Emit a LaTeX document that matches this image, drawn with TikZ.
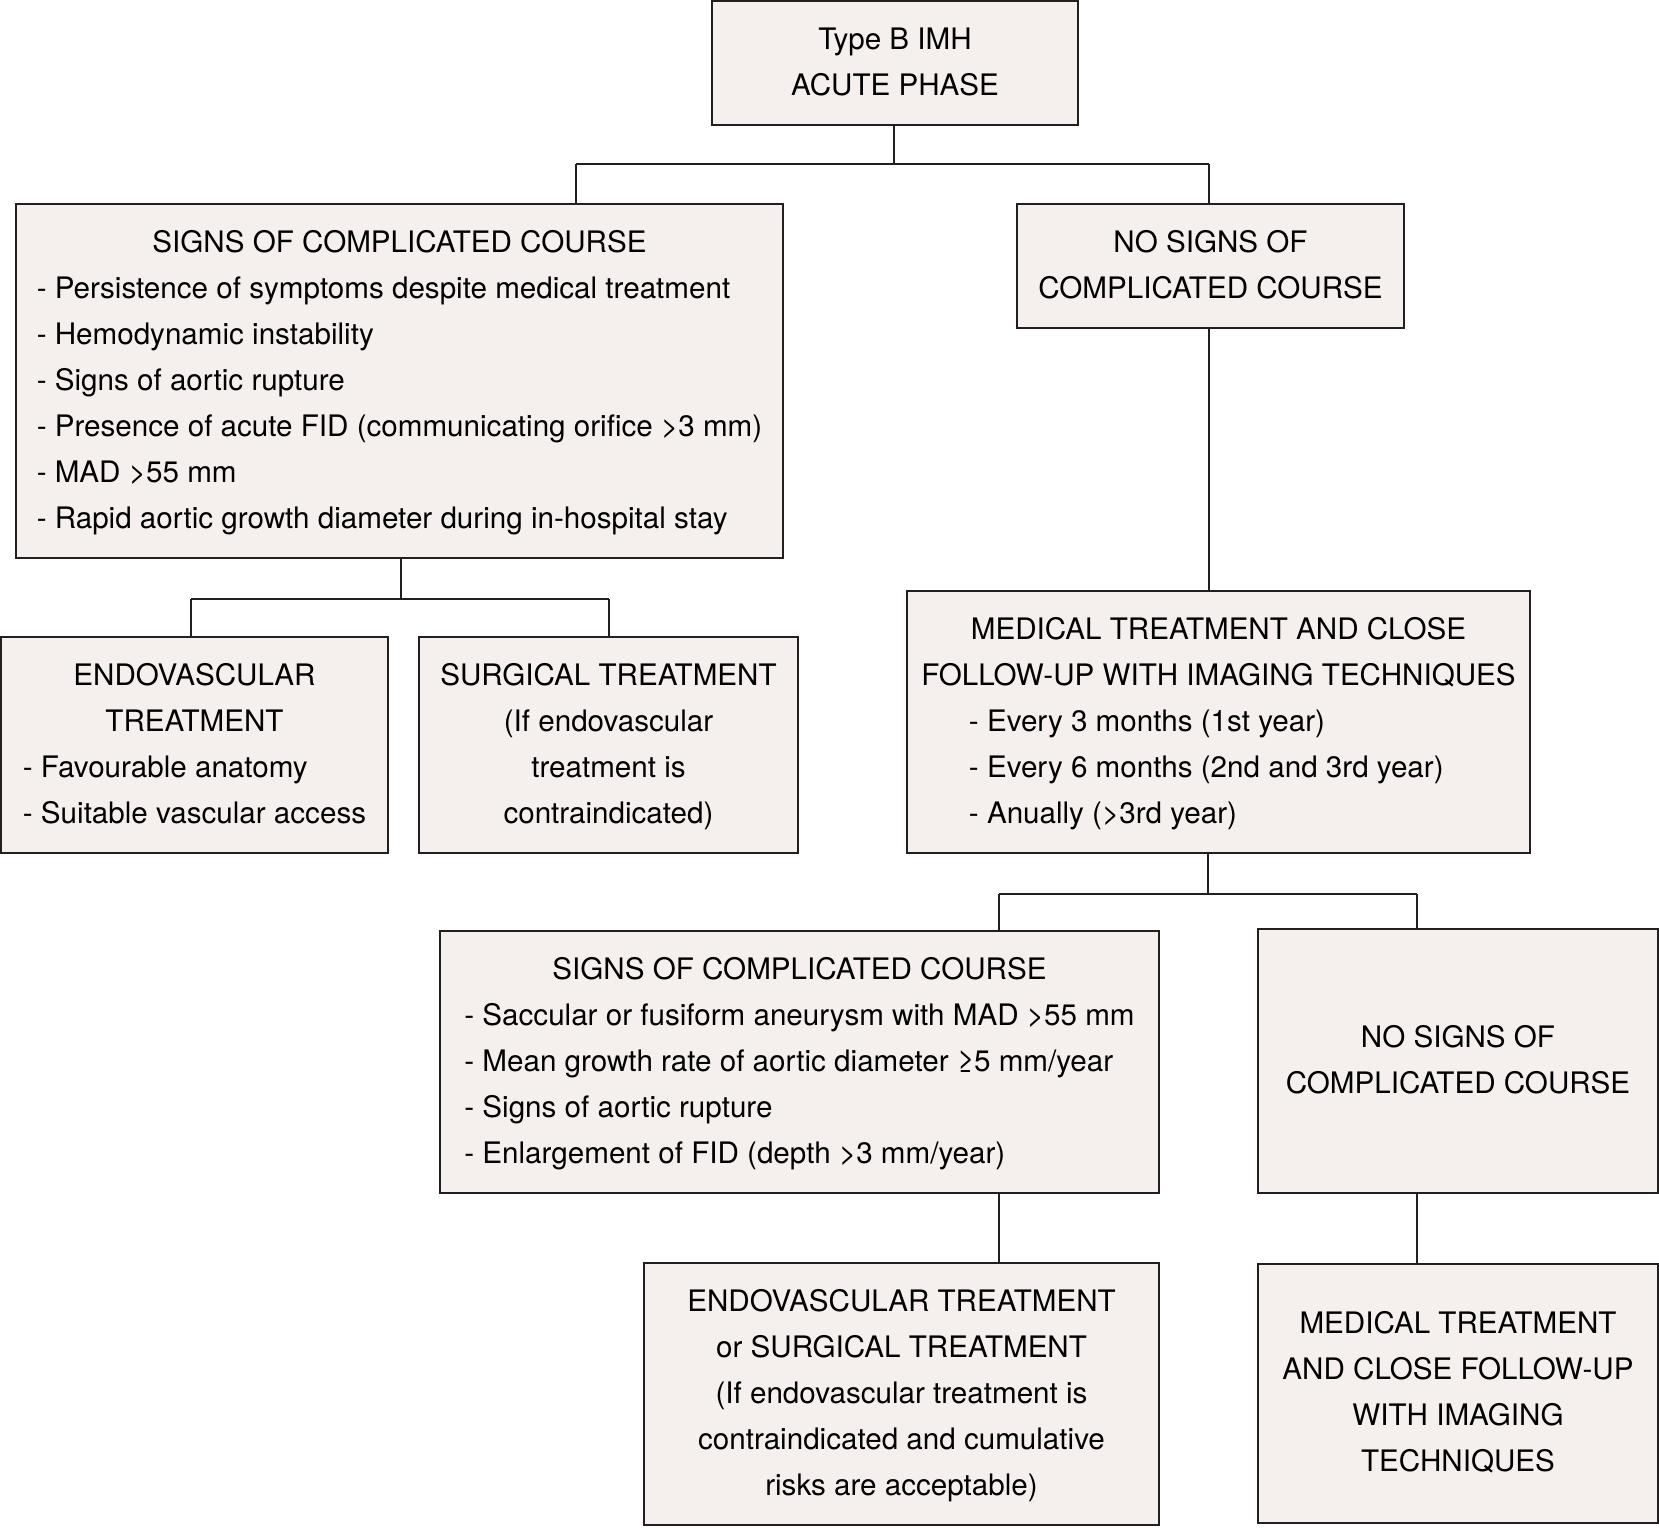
\documentclass[tikz,border=0pt]{standalone}
\usepackage{fontspec}
\setmainfont{TeX Gyre Heros}
\usetikzlibrary{calc}
\definecolor{boxfill}{HTML}{F5F0EE}
\definecolor{boxline}{HTML}{231F20}
\newcommand{\hd}[1]{\multicolumn{1}{@{}c@{}}{#1}}
\begin{document}
\begin{tikzpicture}[x=0.5pt,y=-0.5pt,
  box/.style 2 args={draw=boxline, fill=boxfill, line width=0.9pt, inner sep=0pt,
    minimum width=#1*0.5pt, minimum height=#2*0.5pt, anchor=center,
    font=\fontsize{14.8}{23}\selectfont, text=black},
  link/.style={draw=boxline, line width=0.7pt}]
\useasboundingbox (0,0) rectangle (1659,1527);

\node[box={366}{124}] (top) at (895,63) {\begin{tabular}{@{}c@{}}Type B IMH\\ ACUTE PHASE\end{tabular}};

\node[box={767}{354}] (s1) at (399.5,381) {\begin{tabular}{@{}l@{}}
\hd{SIGNS OF COMPLICATED COURSE}\\
- Persistence of symptoms despite medical treatment\\
- Hemodynamic instability\\
- Signs of aortic rupture\\
- Presence of acute FID (communicating orifice >3 mm)\\
- MAD >55 mm\\
- Rapid aortic growth diameter during in-hospital stay
\end{tabular}};

\node[box={387}{124}] (n1) at (1210.5,266) {\begin{tabular}{@{}c@{}}NO SIGNS OF\\ COMPLICATED COURSE\end{tabular}};

\node[box={387}{216}] (endo) at (194.5,745) {\begin{tabular}{@{}l@{}}
\hd{ENDOVASCULAR}\\
\hd{TREATMENT}\\
- Favourable anatomy\\
- Suitable vascular access
\end{tabular}};

\node[box={379}{216}] (surg) at (608.5,745) {\begin{tabular}{@{}c@{}}
SURGICAL TREATMENT\\
(If endovascular\\
treatment is\\
contraindicated)
\end{tabular}};

\node[box={623}{262}] (med) at (1218.5,722) {\begin{tabular}{@{}l@{}}
\hd{MEDICAL TREATMENT AND CLOSE}\\
\hd{FOLLOW-UP WITH IMAGING TECHNIQUES}\\
\hspace*{23.8pt}- Every 3 months (1st year)\\
\hspace*{23.8pt}- Every 6 months (2nd and 3rd year)\\
\hspace*{23.8pt}- Anually (>3rd year)
\end{tabular}};

\node[box={719}{262}] (s2) at (799.5,1062) {\begin{tabular}{@{}l@{}}
\hd{SIGNS OF COMPLICATED COURSE}\\
- Saccular or fusiform aneurysm with MAD >55 mm\\
- Mean growth rate of aortic diameter ≥5 mm/year\\
- Signs of aortic rupture\\
- Enlargement of FID (depth >3 mm/year)
\end{tabular}};

\node[box={400}{264}] (n2) at (1458,1061) {\begin{tabular}{@{}c@{}}NO SIGNS OF\\ COMPLICATED COURSE\end{tabular}};

\node[box={515}{262}] (endo2) at (901.5,1394) {\begin{tabular}{@{}c@{}}
ENDOVASCULAR TREATMENT\\
or SURGICAL TREATMENT\\
(If endovascular treatment is\\
contraindicated and cumulative\\
risks are acceptable)
\end{tabular}};

\node[box={400}{259}] (medb) at (1458,1393.5) {\begin{tabular}{@{}c@{}}
MEDICAL TREATMENT\\
AND CLOSE FOLLOW-UP\\
WITH IMAGING\\
TECHNIQUES
\end{tabular}};

% junction coordinates
\coordinate (j1) at (894,164);
\coordinate (j1l) at (576,164);
\coordinate (j1r) at (1209,164);
\coordinate (j2) at (401,599);
\coordinate (j2l) at (191,599);
\coordinate (j2r) at (609,599);
\coordinate (j3) at (1208,894);
\coordinate (j3l) at (999,894);
\coordinate (j3r) at (1417,894);

\draw[link] (j1 |- top.south) -- (j1);
\draw[link] (j1l) -- (j1r);
\draw[link] (j1l) -- (j1l |- s1.north);
\draw[link] (j1r) -- (j1r |- n1.north);

\draw[link] (j2 |- s1.south) -- (j2);
\draw[link] (j2l) -- (j2r);
\draw[link] (j2l) -- (j2l |- endo.north);
\draw[link] (j2r) -- (j2r |- surg.north);

\draw[link] (j1r |- n1.south) -- (j1r |- med.north);

\draw[link] (j3 |- med.south) -- (j3);
\draw[link] (j3l) -- (j3r);
\draw[link] (j3l) -- (j3l |- s2.north);
\draw[link] (j3r) -- (j3r |- n2.north);

\draw[link] (j3l |- s2.south) -- (j3l |- endo2.north);
\draw[link] (j3r |- n2.south) -- (j3r |- medb.north);
\end{tikzpicture}
\end{document}
